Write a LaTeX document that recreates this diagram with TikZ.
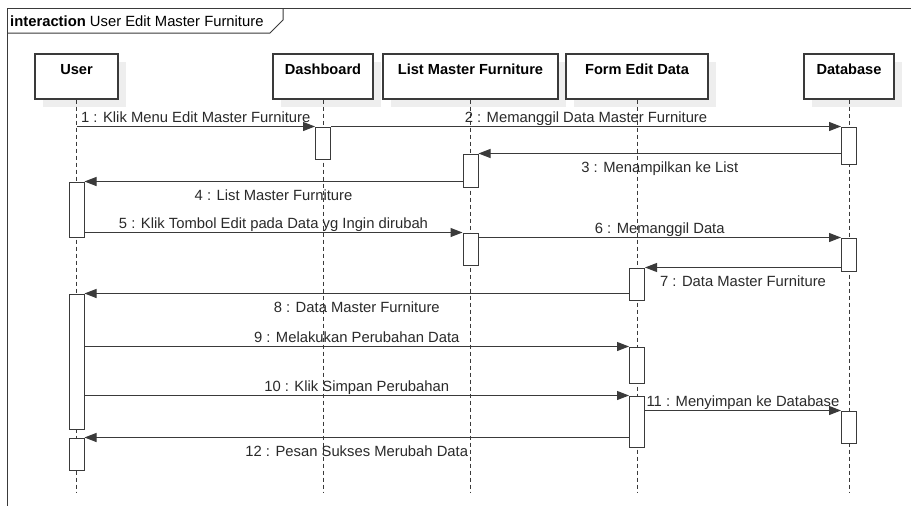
\documentclass[tikz,border=0pt]{standalone}
\usepackage{fontspec}
\setmainfont{Liberation Sans}
\usetikzlibrary{arrows.meta,shadows}
\definecolor{ink}{HTML}{2A2A2A}
\definecolor{edge}{HTML}{3A3A3A}
\definecolor{shade}{HTML}{EEEEEE}

\begin{document}
\begin{tikzpicture}[x=1pt,y=-1pt,
  every node/.style={font=\fontsize{14.8}{17}\selectfont, text=ink},
  headbox/.style={draw=edge, line width=1.1pt, fill=white, inner sep=0pt,
    text height=20pt, text depth=25pt,
    font=\fontsize{14.6}{17}\selectfont\bfseries, text=black,
    drop shadow={shadow xshift=8pt, shadow yshift=-8pt, fill=shade, opacity=1}},
  lifeline/.style={draw=edge, line width=1pt, dash pattern=on 4pt off 3pt},
  act/.style={draw=edge, line width=1pt, fill=white, minimum width=15pt, inner sep=0pt},
  msg/.style={draw=edge, line width=1pt, -{Triangle[length=12pt,width=9pt]}},
  lblup/.style={midway, anchor=base, yshift=4.5pt, inner sep=0pt},
  lbldown/.style={midway, anchor=base, yshift=-18.5pt, inner sep=0pt},
]
\useasboundingbox (0,0) rectangle (911,506);
\fill[white] (0,0) rectangle (911,506);

% interaction frame and its name tag
\draw[edge, line width=1pt] (7,506) -- (7,8) -- (911,8);
\draw[edge, line width=1pt] (7,33) -- (270,33) -- (283,20) -- (283,8);
\node[anchor=base west, inner sep=0pt, text=black] (title) at (10,27)
  {\textbf{interaction} User Edit Master Furniture};

% participants
\node[headbox, minimum width=83pt]  (user) at (76.5,76.5) {User};
\node[headbox, minimum width=100pt] (dash) at (323,76.5) {Dashboard};
\node[headbox, minimum width=175pt] (list) at (470.5,76.5) {List Master Furniture};
\node[headbox, minimum width=142pt] (form) at (637,76.5) {Form Edit Data};
\node[headbox, minimum width=90pt]  (db)   at (849,76.5) {Database};

% lifelines
\foreach \p in {user,dash,list,form,db}
  \draw[lifeline] (\p.south) -- (\p.south |- 0,493);

% activation bars
\node[act, minimum height=32pt]  (a1)  at (dash.south |- 0,143)   {};
\node[act, minimum height=37pt]  (a2)  at (db.south |- 0,145.5)   {};
\node[act, minimum height=33pt]  (a3)  at (list.south |- 0,170.5) {};
\node[act, minimum height=55pt]  (a4)  at (user.south |- 0,209.5) {};
\node[act, minimum height=32pt]  (a5)  at (list.south |- 0,249)   {};
\node[act, minimum height=33pt]  (a6)  at (db.south |- 0,254.5)   {};
\node[act, minimum height=32pt]  (a7)  at (form.south |- 0,284)   {};
\node[act, minimum height=135pt] (a8)  at (user.south |- 0,361.5) {};
\node[act, minimum height=36pt]  (a9)  at (form.south |- 0,365)   {};
\node[act, minimum height=51pt]  (a10) at (form.south |- 0,421.5) {};
\node[act, minimum height=32pt]  (a11) at (db.south |- 0,427)     {};
\node[act, minimum height=32pt]  (a12) at (user.south |- 0,454)   {};

% messages
\draw[msg] (user.south |- a1.north) -- (a1.north west)
  node[lblup] {1 : Klik Menu Edit Master Furniture};
\draw[msg] (a1.north east) -- (a2.north west)
  node[lblup] {2 : Memanggil Data Master Furniture};
\draw[msg] (a2.west |- a3.north) -- (a3.north east)
  node[lbldown] {3 : Menampilkan ke List};
\draw[msg] (a3.west |- a4.north) -- (a4.north east)
  node[lbldown] {4 : List Master Furniture};
\draw[msg] (a4.east |- a5.north) -- (a5.north west)
  node[lblup] {5 : Klik Tombol Edit pada Data yg Ingin dirubah};
\draw[msg] (a5.east |- a6.north) -- (a6.north west)
  node[lblup] {6 : Memanggil Data};
\draw[msg] (a6.west |- a7.north) -- (a7.north east)
  node[lbldown] {7 : Data Master Furniture};
\draw[msg] (a7.west |- a8.north) -- (a8.north east)
  node[lbldown] {8 : Data Master Furniture};
\draw[msg] (a8.east |- a9.north) -- (a9.north west)
  node[lblup] {9 : Melakukan Perubahan Data};
\draw[msg] (a8.east |- a10.north) -- (a10.north west)
  node[lblup] {10 : Klik Simpan Perubahan};
\draw[msg] (a10.east |- a11.north) -- (a11.north west)
  node[lblup] {11 : Menyimpan ke Database};
\draw[msg] (a10.west |- a12.north) -- (a12.north east)
  node[lbldown] {12 : Pesan Sukses Merubah Data};
\end{tikzpicture}
\end{document}
